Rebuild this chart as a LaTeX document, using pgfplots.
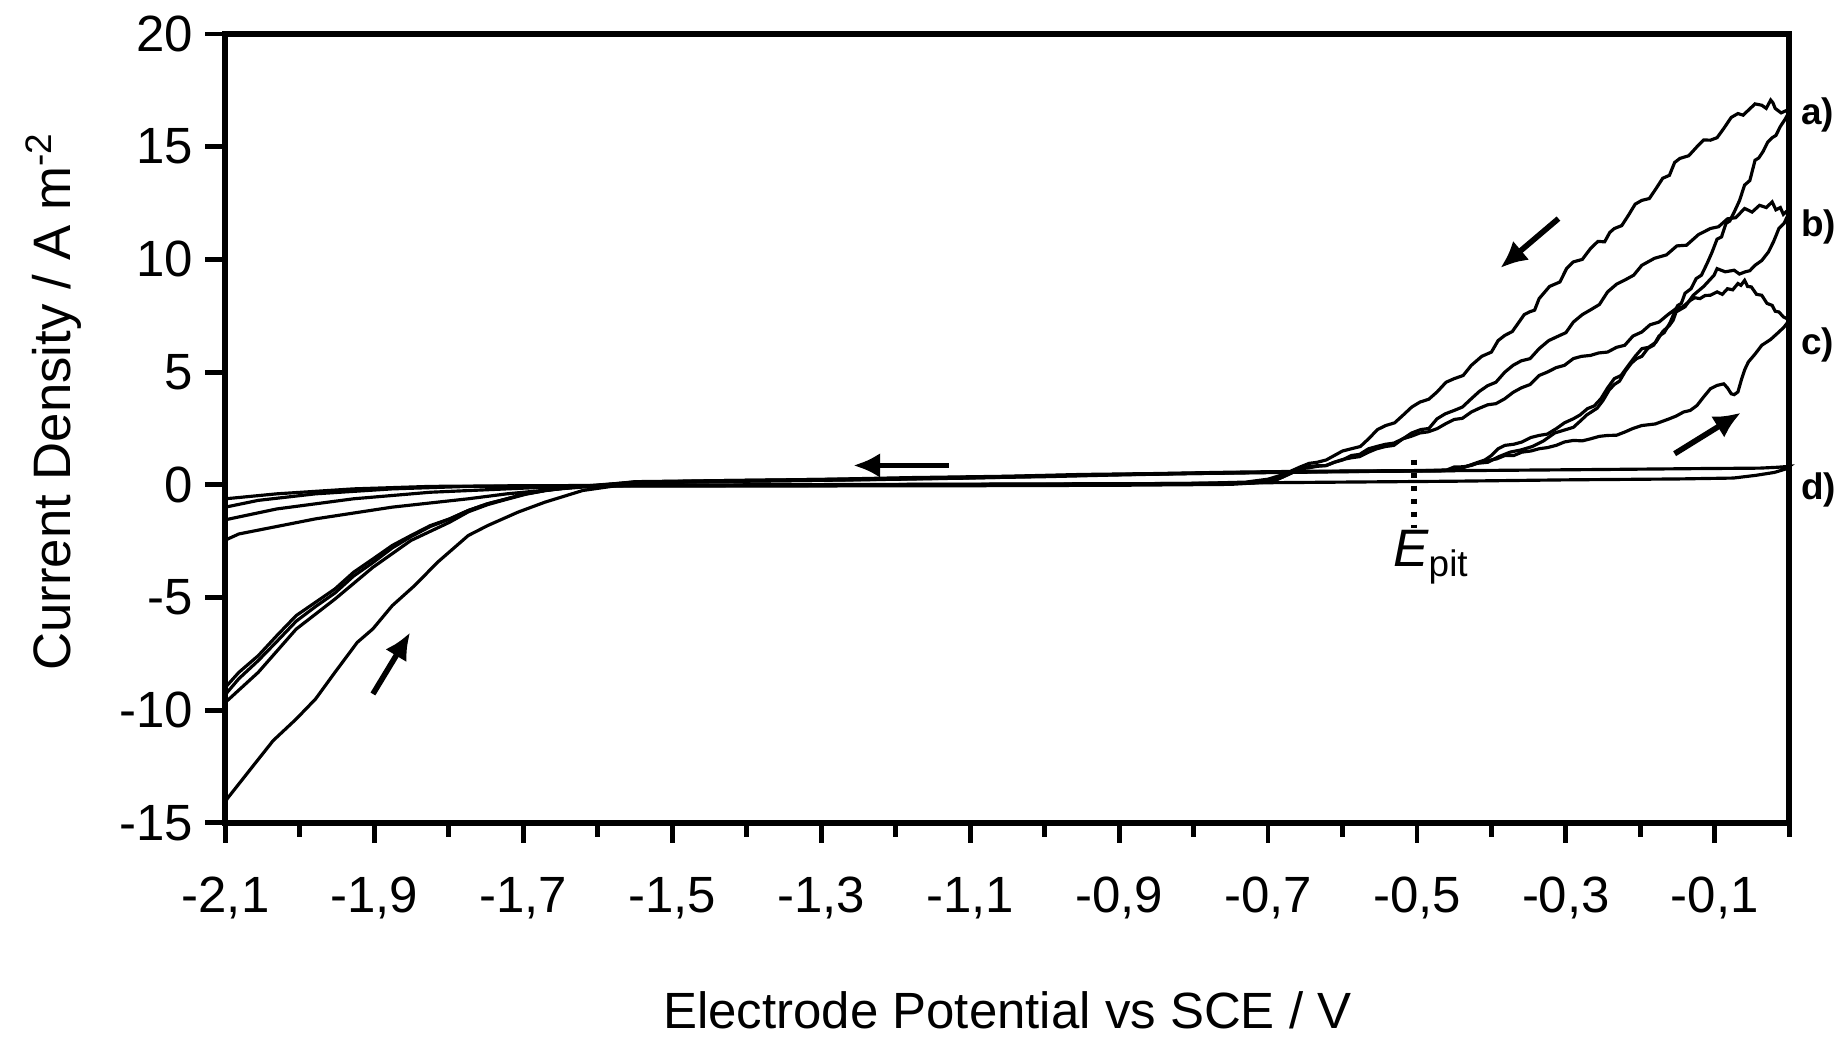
\documentclass[border=0pt]{standalone}
\usepackage{fontspec}
\setmainfont{Liberation Sans}
\usepackage{pgfplots}
\pgfplotsset{compat=1.18}
\usetikzlibrary{arrows.meta}

\begin{document}
\begin{tikzpicture}
\useasboundingbox (-2.255,-2.15) rectangle (16.107,8.23);
\begin{axis}[
  at={(0,0)}, anchor=south west,
  scale only axis, width=15.64cm, height=7.89cm,
  xmin=-2.1, xmax=0, ymin=-15, ymax=20,
  xtick={-2.1,-1.9,-1.7,-1.5,-1.3,-1.1,-0.9,-0.7,-0.5,-0.3,-0.1},
  xticklabels={{-2,1},{-1,9},{-1,7},{-1,5},{-1,3},{-1,1},{-0,9},{-0,7},{-0,5},{-0,3},{-0,1}},
  minor xtick={-2.0,-1.8,-1.6,-1.4,-1.2,-1.0,-0.8,-0.6,-0.4,-0.2,0},
  ytick={-15,-10,-5,0,5,10,15,20},
  yticklabels={-15,-10,-5,0,5,10,15,20},
  tick align=outside, tickpos=left,
  major tick length=0.2cm, minor tick length=0.14cm,
  every tick/.style={black, line width=1.4pt},
  axis line style={line width=1.7pt},
  ticklabel style={font=\fontsize{14.5}{17}\selectfont},
  xticklabel style={yshift=-0.22cm},
  clip=false,
]
% a
\addplot[black, line width=0.9pt] coordinates {
(-2.1,-9.3) (-2.082,-8.6) (-2.056,-7.8) (-2.031,-6.95) (-2.005,-6.05) (-1.979,-5.4) (-1.953,-4.8) (-1.928,-4.05) (-1.902,-3.45) (-1.876,-2.8) (-1.851,-2.3) (-1.825,-1.85) (-1.799,-1.52) (-1.774,-1.14) (-1.748,-0.84) (-1.722,-0.62) (-1.697,-0.40) (-1.671,-0.25) (-1.645,-0.14) (-1.62,-0.06) (-1.59,0.02) (-1.55,0.12) (-1.45,0.18) (-1.3,0.24) (-1.18,0.32) (-1.05,0.38) (-0.95,0.46) (-0.85,0.5) (-0.75,0.56) (-0.65,0.6) (-0.55,0.62) (-0.47,0.64)
(-0.45,0.66) (-0.435,0.8) (-0.42,0.95) (-0.405,1.0) (-0.39,1.25) (-0.375,1.45) (-0.36,1.55) (-0.345,1.7) (-0.33,1.95) (-0.315,2.3) (-0.30,2.45) (-0.29,2.55) (-0.28,2.85) (-0.272,3.1) (-0.265,3.25) (-0.258,3.4) (-0.25,3.75) (-0.242,4.2) (-0.235,4.45) (-0.228,4.6) (-0.22,5.05) (-0.212,5.4) (-0.205,5.6) (-0.198,5.7) (-0.19,6.05) (-0.182,6.2) (-0.175,6.6) (-0.168,6.75) (-0.16,7.2) (-0.155,7.6) (-0.15,7.95) (-0.145,8.05) (-0.14,8.5) (-0.132,8.7) (-0.125,9.15) (-0.118,9.3) (-0.11,9.85) (-0.104,10.3) (-0.097,10.9) (-0.091,11.0) (-0.085,11.6) (-0.08,11.7) (-0.074,12.1) (-0.067,12.6) (-0.06,13.3) (-0.053,13.5) (-0.046,14.4) (-0.041,14.5) (-0.035,14.8) (-0.029,15.2) (-0.023,15.4) (-0.018,15.5) (-0.012,15.9) (-0.006,16.2) (0,16.55)
(-0.003,16.62) (-0.011,16.5) (-0.019,16.7) (-0.022,16.95) (-0.025,17.07) (-0.031,16.7) (-0.037,16.84) (-0.046,16.9) (-0.055,16.62) (-0.062,16.4) (-0.069,16.47) (-0.078,16.3) (-0.088,15.81) (-0.097,15.4) (-0.106,15.29) (-0.115,15.3) (-0.124,15.0) (-0.135,14.6) (-0.147,14.48) (-0.154,14.3) (-0.161,13.73) (-0.170,13.6) (-0.179,13.14) (-0.188,12.7) (-0.198,12.62) (-0.207,12.45) (-0.216,11.96) (-0.225,11.5) (-0.235,11.37) (-0.241,11.2) (-0.248,10.78) (-0.257,10.8) (-0.267,10.48) (-0.278,10.0) (-0.290,9.89) (-0.299,9.6) (-0.308,9.0) (-0.322,8.8) (-0.336,8.26) (-0.342,7.75) (-0.349,7.67) (-0.356,7.55) (-0.363,7.22) (-0.372,6.8) (-0.382,6.63) (-0.391,6.4) (-0.400,5.89) (-0.413,5.7) (-0.427,5.3) (-0.438,4.85) (-0.450,4.71) (-0.461,4.55) (-0.473,4.12) (-0.484,3.8) (-0.496,3.67) (-0.507,3.45) (-0.519,3.08) (-0.530,2.75) (-0.542,2.63) (-0.553,2.45) (-0.565,2.04) (-0.576,1.7) (-0.588,1.6) (-0.600,1.5) (-0.611,1.3) (-0.622,1.1) (-0.634,1.0) (-0.645,0.95) (-0.657,0.79)
(-0.68,0.45) (-0.70,0.25) (-0.73,0.12) (-0.8,0.06) (-1.0,0.04) (-1.2,0.02) (-1.4,0.0) (-1.55,-0.02) (-1.62,-0.1) (-1.652,-0.18) (-1.722,-0.40) (-1.774,-0.62) (-1.876,-0.99) (-1.979,-1.51) (-2.082,-2.18) (-2.1,-2.45)
};
% b
\addplot[black, line width=0.9pt] coordinates {
(-2.1,-8.98) (-2.082,-8.32) (-2.056,-7.58) (-2.031,-6.69) (-2.005,-5.8) (-1.979,-5.21) (-1.953,-4.62) (-1.928,-3.88) (-1.902,-3.29) (-1.876,-2.69) (-1.851,-2.25) (-1.825,-1.81) (-1.799,-1.51) (-1.774,-1.14) (-1.748,-0.84) (-1.722,-0.62) (-1.697,-0.40) (-1.671,-0.25) (-1.645,-0.15) (-1.62,-0.07) (-1.59,0.0) (-1.55,0.1) (-1.4,0.16) (-1.25,0.22) (-1.1,0.3) (-0.98,0.4) (-0.88,0.46) (-0.76,0.52) (-0.65,0.58) (-0.55,0.6) (-0.45,0.62)
(-0.418,1.0) (-0.409,1.1) (-0.400,1.3) (-0.391,1.6) (-0.382,1.75) (-0.37,1.8) (-0.359,1.9) (-0.347,2.1) (-0.336,2.19) (-0.325,2.25) (-0.313,2.49) (-0.302,2.75) (-0.290,2.93) (-0.281,3.1) (-0.271,3.38) (-0.262,3.5) (-0.253,3.82) (-0.244,4.3) (-0.235,4.71) (-0.226,4.85) (-0.216,5.3) (-0.207,5.7) (-0.198,6.04) (-0.189,6.1) (-0.179,6.33) (-0.17,6.8) (-0.161,7.07) (-0.156,7.3) (-0.152,7.67) (-0.14,7.9) (-0.129,8.41) (-0.115,8.8) (-0.101,9.3) (-0.097,9.59) (-0.086,9.45) (-0.074,9.52) (-0.067,9.35) (-0.060,9.44) (-0.053,9.5) (-0.046,9.74) (-0.037,9.95) (-0.028,10.33) (-0.021,10.8) (-0.014,11.37) (-0.007,11.6) (0,12.1)
(-0.003,12.15) (-0.008,12.0) (-0.012,12.3) (-0.018,12.2) (-0.023,12.55) (-0.031,12.3) (-0.040,12.4) (-0.050,12.1) (-0.060,12.26) (-0.072,11.85) (-0.083,11.8) (-0.095,11.45) (-0.106,11.37) (-0.122,11.1) (-0.138,10.63) (-0.151,10.6) (-0.165,10.2) (-0.181,10.05) (-0.198,9.74) (-0.209,9.3) (-0.22,9.1) (-0.232,8.9) (-0.244,8.56) (-0.255,8.0) (-0.265,7.8) (-0.278,7.55) (-0.290,7.22) (-0.300,6.75) (-0.31,6.6) (-0.323,6.4) (-0.336,6.04) (-0.348,5.6) (-0.36,5.5) (-0.371,5.3) (-0.382,5.0) (-0.394,4.55) (-0.405,4.4) (-0.416,4.15) (-0.427,3.82) (-0.439,3.45) (-0.45,3.3) (-0.462,3.15) (-0.473,2.93) (-0.484,2.5) (-0.495,2.45) (-0.507,2.3) (-0.519,2.04) (-0.531,1.75) (-0.542,1.7) (-0.554,1.6) (-0.565,1.45) (-0.577,1.25) (-0.588,1.2) (-0.6,1.12) (-0.611,1.0) (-0.622,0.85) (-0.634,0.85) (-0.646,0.8) (-0.657,0.71)
(-0.67,0.5) (-0.69,0.2) (-0.72,0.08) (-0.85,0.04) (-1.05,0.0) (-1.25,-0.02) (-1.45,-0.04) (-1.6,-0.05) (-1.645,-0.07) (-1.722,-0.18) (-1.825,-0.33) (-1.928,-0.62) (-2.031,-1.07) (-2.1,-1.55)
};
% c
\addplot[black, line width=0.9pt] coordinates {
(-2.1,-14.1) (-2.098,-13.94) (-2.066,-12.6) (-2.036,-11.35) (-2.005,-10.39) (-1.979,-9.5) (-1.953,-8.32) (-1.923,-6.99) (-1.902,-6.39) (-1.876,-5.36) (-1.846,-4.47) (-1.815,-3.43) (-1.774,-2.25) (-1.748,-1.81) (-1.707,-1.21) (-1.671,-0.77) (-1.620,-0.25) (-1.573,-0.03) (-1.54,0.08) (-1.45,0.14) (-1.3,0.2) (-1.15,0.28) (-1.0,0.36) (-0.9,0.44) (-0.8,0.5) (-0.7,0.54) (-0.6,0.58) (-0.5,0.62) (-0.46,0.66)
(-0.450,0.79) (-0.438,0.8) (-0.427,0.86) (-0.415,1.0) (-0.404,1.08) (-0.393,1.15) (-0.382,1.3) (-0.37,1.3) (-0.359,1.45) (-0.347,1.5) (-0.336,1.6) (-0.325,1.65) (-0.313,1.75) (-0.302,1.9) (-0.290,1.97) (-0.278,1.95) (-0.267,2.04) (-0.255,2.15) (-0.244,2.19) (-0.232,2.2) (-0.221,2.34) (-0.21,2.5) (-0.198,2.63) (-0.18,2.7) (-0.161,2.93) (-0.152,3.05) (-0.142,3.23) (-0.133,3.3) (-0.124,3.52) (-0.115,3.9) (-0.106,4.26) (-0.097,4.41) (-0.088,4.48) (-0.083,4.3) (-0.078,4.04) (-0.074,4.0) (-0.069,4.12) (-0.064,4.7) (-0.06,5.1) (-0.055,5.45) (-0.046,5.8) (-0.037,6.19) (-0.025,6.45) (-0.014,6.78) (-0.007,7.0) (0,7.3)
(-0.003,7.37) (-0.008,7.45) (-0.014,7.67) (-0.019,7.7) (-0.023,7.96) (-0.030,8.05) (-0.037,8.41) (-0.044,8.45) (-0.051,8.78) (-0.056,8.8) (-0.060,9.07) (-0.065,8.85) (-0.069,8.93) (-0.076,8.65) (-0.083,8.7) (-0.090,8.45) (-0.097,8.56) (-0.106,8.41) (-0.113,8.4) (-0.120,8.26) (-0.127,8.3) (-0.133,8.18) (-0.143,7.9) (-0.152,7.82) (-0.163,7.55) (-0.175,7.22) (-0.187,7.1) (-0.198,6.78) (-0.21,6.6) (-0.221,6.19) (-0.232,6.1) (-0.244,5.89) (-0.256,5.85) (-0.267,5.74) (-0.279,5.7) (-0.290,5.6) (-0.302,5.3) (-0.313,5.2) (-0.325,5.0) (-0.336,4.85) (-0.348,4.45) (-0.36,4.3) (-0.371,4.1) (-0.382,3.82) (-0.394,3.6) (-0.405,3.55) (-0.416,3.4) (-0.427,3.23) (-0.439,2.95) (-0.45,2.9) (-0.462,2.7) (-0.473,2.49) (-0.485,2.35) (-0.496,2.3) (-0.508,2.15) (-0.519,2.04) (-0.531,1.85) (-0.542,1.8) (-0.554,1.7) (-0.565,1.6) (-0.577,1.35) (-0.588,1.3) (-0.6,1.1) (-0.611,1.0) (-0.623,0.85) (-0.634,0.82) (-0.646,0.75) (-0.657,0.71)
(-0.68,0.35) (-0.70,0.12) (-0.75,0.02) (-0.9,-0.02) (-1.1,-0.04) (-1.3,-0.05) (-1.5,-0.06) (-1.65,-0.06) (-1.774,-0.07) (-1.876,-0.18) (-1.979,-0.40) (-2.056,-0.69) (-2.1,-0.99)
};
% d
\addplot[black, line width=0.9pt] coordinates {
(-2.1,-9.65) (-2.056,-8.32) (-2.005,-6.4) (-1.953,-5.07) (-1.902,-3.66) (-1.851,-2.47) (-1.799,-1.66) (-1.774,-1.2) (-1.748,-0.88) (-1.722,-0.64) (-1.697,-0.42) (-1.671,-0.26) (-1.645,-0.15) (-1.62,-0.07) (-1.59,0.0) (-1.55,0.14) (-1.4,0.2) (-1.2,0.28) (-1.0,0.4) (-0.8,0.52) (-0.6,0.6) (-0.4,0.64) (-0.25,0.68) (-0.12,0.72) (-0.04,0.74) (-0.015,0.78) (0,0.82)
(-0.005,0.7) (-0.02,0.55) (-0.045,0.42) (-0.075,0.3) (-0.15,0.26) (-0.3,0.22) (-0.45,0.16) (-0.6,0.12) (-0.75,0.08) (-0.9,0.04) (-1.1,0.02) (-1.3,0.0) (-1.5,-0.02) (-1.7,-0.04) (-1.825,-0.07) (-1.928,-0.18) (-2.031,-0.40) (-2.1,-0.62)
};
% scan direction arrows
\draw[-{Latex[length=0.27cm,width=0.25cm]}, line width=1.6pt] (axis cs:-1.902,-9.28) -- (axis cs:-1.852,-6.55);
\draw[-{Latex[length=0.27cm,width=0.25cm]}, line width=1.6pt] (axis cs:-1.129,0.86) -- (axis cs:-1.257,0.86);
\draw[-{Latex[length=0.27cm,width=0.25cm]}, line width=1.6pt] (axis cs:-0.310,11.81) -- (axis cs:-0.388,9.62);
\draw[-{Latex[length=0.27cm,width=0.25cm]}, line width=1.6pt] (axis cs:-0.154,1.38) -- (axis cs:-0.065,3.2);
% pitting potential
\draw[line width=0.06cm, dash pattern=on 0.05cm off 0.08cm] (axis cs:-0.504,1.12) -- (axis cs:-0.504,-1.9);
\node[anchor=north west, inner sep=0pt, font=\fontsize{15}{18}\selectfont] at (axis cs:-0.533,-2.0) {\textit{E}\textsubscript{pit}};
% curve labels
\node[anchor=west, inner sep=0pt, font=\fontsize{10.5}{12}\selectfont\bfseries] at (axis cs:0.015,16.4) {a)};
\node[anchor=west, inner sep=0pt, font=\fontsize{10.5}{12}\selectfont\bfseries] at (axis cs:0.015,11.45) {b)};
\node[anchor=west, inner sep=0pt, font=\fontsize{10.5}{12}\selectfont\bfseries] at (axis cs:0.015,6.2) {c)};
\node[anchor=west, inner sep=0pt, font=\fontsize{10.5}{12}\selectfont\bfseries] at (axis cs:0.015,-0.25) {d)};
\end{axis}
\node[font=\fontsize{14.5}{17}\selectfont] at (7.82,-1.87) {Electrode Potential vs SCE / V};
\node[rotate=90, font=\fontsize{15}{18}\selectfont] at (-1.72,4.215) {Current Density / A m\textsuperscript{-2}};
\end{tikzpicture}
\end{document}
